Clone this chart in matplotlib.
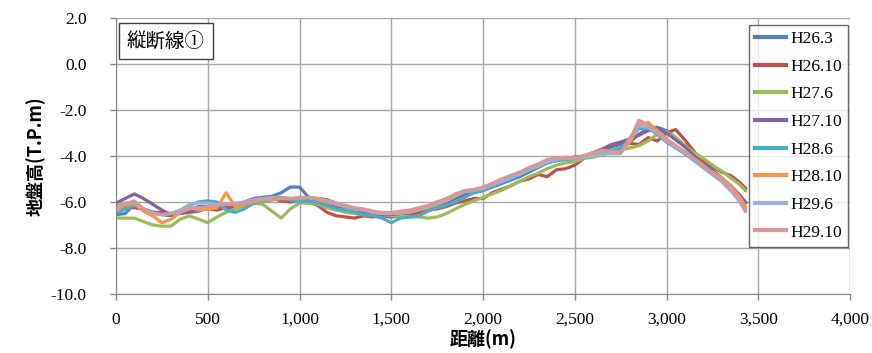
import matplotlib
matplotlib.use("Agg")
import matplotlib.pyplot as plt
from matplotlib.ticker import FuncFormatter, MultipleLocator

plt.rcParams['font.family'] = ['Liberation Serif', 'Noto Sans CJK JP', 'DejaVu Sans']
plt.rcParams['axes.unicode_minus'] = False
plt.rcParams['ytick.major.pad'] = 17
plt.rcParams['xtick.major.pad'] = 9
plt.rcParams['xtick.labelsize'] = 12.5
plt.rcParams['ytick.labelsize'] = 12.5

distance = [0, 50, 100, 150, 200, 250, 300, 350, 400, 450, 500, 550, 600, 650, 700, 750,
            800, 850, 900, 950, 1000, 1050, 1100, 1150, 1200, 1250, 1300, 1350, 1400, 1450,
            1500, 1550, 1600, 1650, 1700, 1750, 1800, 1850, 1900, 1950, 2000, 2050, 2100,
            2150, 2200, 2250, 2300, 2350, 2400, 2450, 2500, 2550, 2600, 2650, 2700, 2750,
            2800, 2850, 2900, 2950, 3000, 3050, 3100, 3150, 3200, 3250, 3300, 3350, 3400, 3430]

h26_3 = [-6.55, -6.5, -6.1, -6.3, -6.45, -6.55, -6.6, -6.45, -6.35, -6.2, -6.2, -6.1, -6.15, -6.1,
         -6.0, -5.85, -5.8, -5.75, -5.6, -5.35, -5.35, -5.8, -5.85, -5.9, -6.05, -6.2, -6.35, -6.45,
         -6.5, -6.6, -6.65, -6.6, -6.55, -6.45, -6.35, -6.2, -6.05, -5.85, -5.7, -5.6, -5.5, -5.35,
         -5.2, -5.05, -4.9, -4.7, -4.5, -4.3, -4.2, -4.15, -4.15, -4.05, -3.95, -3.8, -3.6, -3.5,
         -3.4, -3.05, -2.8, -2.75, -2.9, -3.2, -3.55, -3.9, -4.3, -4.6, -4.95, -5.3, -5.7, -6.0]

h26_10 = [-6.3, -6.2, -6.25, -6.3, -6.45, -6.45, -6.5, -6.4, -6.4, -6.35, -6.3, -6.35, -6.25, -6.25,
          -6.15, -6.05, -5.9, -5.85, -5.95, -6.0, -5.95, -6.0, -6.15, -6.45, -6.6, -6.65, -6.7, -6.6,
          -6.65, -6.6, -6.65, -6.55, -6.5, -6.45, -6.35, -6.3, -6.2, -6.05, -5.95, -5.85, -5.85, -5.6,
          -5.45, -5.3, -5.1, -5.0, -4.8, -4.9, -4.6, -4.55, -4.4, -4.1, -3.95, -3.7, -3.55, -3.4,
          -3.45, -3.5, -3.2, -3.35, -3.0, -2.85, -3.3, -3.8, -4.25, -4.45, -4.7, -4.85, -5.15, -5.4]

h27_6 = [-6.7, -6.7, -6.7, -6.85, -7.0, -7.05, -7.05, -6.75, -6.6, -6.75, -6.9, -6.65, -6.45, -6.3,
         -6.15, -6.05, -6.1, -6.4, -6.7, -6.3, -6.05, -6.05, -6.1, -6.25, -6.35, -6.45, -6.5, -6.55,
         -6.55, -6.55, -6.6, -6.6, -6.65, -6.65, -6.7, -6.65, -6.5, -6.3, -6.1, -5.95, -5.8, -5.65,
         -5.5, -5.3, -5.1, -4.9, -4.75, -4.55, -4.4, -4.3, -4.25, -4.1, -4.05, -3.95, -3.85, -3.75,
         -3.65, -3.55, -3.35, -3.05, -2.95, -3.2, -3.55, -3.85, -4.1, -4.4, -4.65, -4.95, -5.25, -5.5]

h27_10 = [-6.05, -5.85, -5.65, -5.85, -6.1, -6.35, -6.55, -6.5, -6.45, -6.4, -6.25, -6.25, -6.2, -6.1,
          -6.1, -6.0, -5.95, -5.9, -5.85, -5.85, -5.9, -5.95, -6.0, -6.1, -6.2, -6.35, -6.4, -6.45,
          -6.5, -6.55, -6.55, -6.5, -6.45, -6.3, -6.2, -6.0, -5.9, -5.75, -5.6, -5.55, -5.45, -5.3,
          -5.1, -4.95, -4.8, -4.6, -4.4, -4.2, -4.1, -4.1, -4.05, -4.0, -3.85, -3.7, -3.5, -3.4,
          -3.25, -3.1, -2.9, -2.8, -3.0, -3.3, -3.6, -4.0, -4.45, -4.7, -4.95, -5.3, -5.75, -6.05]

h28_6 = [-6.5, -6.3, -6.15, -6.3, -6.45, -6.55, -6.5, -6.4, -6.15, -6.0, -5.95, -6.0, -6.35, -6.45,
         -6.3, -6.05, -5.95, -5.9, -5.85, -5.9, -6.0, -5.95, -6.05, -6.15, -6.3, -6.35, -6.45, -6.55,
         -6.6, -6.7, -6.9, -6.7, -6.65, -6.6, -6.4, -6.25, -6.15, -6.0, -5.8, -5.6, -5.5, -5.35,
         -5.15, -5.0, -4.8, -4.6, -4.45, -4.3, -4.2, -4.15, -4.1, -4.05, -3.95, -3.85, -3.75, -3.65,
         -3.3, -2.8, -2.8, -3.05, -3.4, -3.65, -3.9, -4.2, -4.5, -4.8, -5.1, -5.5, -5.95, -6.3]

h28_10 = [-6.3, -6.15, -6.05, -6.4, -6.6, -6.9, -6.75, -6.45, -6.2, -6.35, -6.3, -6.25, -5.6, -6.2,
          -6.1, -6.0, -5.9, -5.9, -5.85, -5.85, -5.85, -5.8, -5.9, -6.0, -6.1, -6.2, -6.3, -6.35,
          -6.45, -6.5, -6.5, -6.5, -6.45, -6.35, -6.25, -6.1, -5.95, -5.75, -5.55, -5.5, -5.4, -5.2,
          -5.05, -4.9, -4.75, -4.55, -4.4, -4.2, -4.1, -4.1, -4.1, -4.0, -3.95, -3.85, -3.8, -3.85,
          -3.4, -2.65, -2.55, -2.9, -3.25, -3.55, -3.85, -4.15, -4.45, -4.7, -4.95, -5.3, -5.8, -6.2]

h29_6 = [-6.2, -6.05, -6.0, -6.3, -6.5, -6.55, -6.5, -6.35, -6.1, -6.05, -6.05, -6.1, -6.1, -6.05,
         -6.0, -5.9, -5.85, -5.8, -5.8, -5.85, -5.85, -5.8, -5.85, -5.95, -6.1, -6.2, -6.3, -6.35,
         -6.45, -6.5, -6.5, -6.45, -6.4, -6.3, -6.2, -6.05, -5.9, -5.7, -5.55, -5.5, -5.4, -5.25,
         -5.1, -4.95, -4.8, -4.6, -4.45, -4.25, -4.15, -4.1, -4.15, -4.05, -4.0, -3.9, -3.9, -3.9,
         -3.2, -2.7, -2.75, -3.0, -3.35, -3.6, -3.85, -4.15, -4.5, -4.8, -5.1, -5.5, -6.0, -6.4]

h29_10 = [-6.2, -6.1, -5.95, -6.3, -6.5, -6.55, -6.5, -6.45, -6.3, -6.25, -6.2, -6.15, -6.1, -6.1,
          -6.05, -5.95, -5.9, -5.85, -5.8, -5.85, -5.8, -5.8, -5.85, -5.95, -6.05, -6.15, -6.25, -6.3,
          -6.4, -6.45, -6.45, -6.4, -6.35, -6.25, -6.15, -6.0, -5.85, -5.65, -5.5, -5.45, -5.35, -5.2,
          -5.0, -4.85, -4.7, -4.5, -4.35, -4.15, -4.1, -4.05, -4.1, -4.0, -3.85, -3.75, -3.8, -3.85,
          -3.3, -2.45, -2.65, -2.95, -3.3, -3.55, -3.8, -4.1, -4.4, -4.75, -5.0, -5.4, -5.9, -6.4]

labels = ["H26.3", "H26.10", "H27.6", "H27.10", "H28.6", "H28.10", "H29.6", "H29.10"]
series = [h26_3, h26_10, h27_6, h27_10, h28_6, h28_10, h29_6, h29_10]
colors = ["#4F81BD", "#C0504D", "#9BBB59", "#8064A2", "#4BACC6", "#F79646", "#95B3D7", "#D99694"]

title_text = "縦断線①"
xlabel_text = "距離(m)"
ylabel_text = "地盤高(T.P.m)"

W, H = 872, 353
fig = plt.figure(figsize=(W / 100, H / 100), dpi=100)
ax = fig.add_axes([116 / W, 1 - 294 / H, (850 - 116) / W, (294 - 18) / H])

for vals, lab, col in zip(series, labels, colors):
    ax.plot(distance, vals, color=col, lw=2.3, label=lab, solid_joinstyle='round')

ax.set_xlim(0, 4000)
ax.set_ylim(-10, 2)
ax.xaxis.set_major_locator(MultipleLocator(500))
ax.yaxis.set_major_locator(MultipleLocator(2))
ax.xaxis.set_major_formatter(FuncFormatter(lambda v, p: f"{int(v):,}"))
ax.yaxis.set_major_formatter(FuncFormatter(lambda v, p: f"{v:.1f}"))
ax.grid(True, color="#A6A6A6", lw=1.0)
ax.set_axisbelow(True)
for s in ["top", "right"]:
    ax.spines[s].set_visible(False)
ax.spines["left"].set_color("#868686")
ax.spines["bottom"].set_color("#868686")
ax.tick_params(axis="both", colors="#868686", length=4, width=1, labelcolor="black")

cjk = ["Noto Sans CJK JP", "DejaVu Sans"]
ax.set_xlabel(xlabel_text, family=cjk, fontsize=13, fontweight="bold", labelpad=1)
ax.set_ylabel(ylabel_text, family=cjk, fontsize=13, fontweight="bold", labelpad=4)

ax.text(127 / W, 1 - 41 / H, title_text, transform=fig.transFigure, family=cjk, fontsize=14,
        va="center", ha="left",
        bbox=dict(boxstyle="square,pad=0.4", fc="white", ec="#404040", lw=1))

leg = ax.legend(loc="upper right", bbox_to_anchor=(848 / W, 1 - 25 / H),
                bbox_transform=fig.transFigure, frameon=True, fancybox=False,
                prop={"family": ["Liberation Serif"], "size": 12.5},
                handlelength=1.8, labelspacing=0.66, borderpad=0.35, handletextpad=0.25,
                borderaxespad=0)
leg.get_frame().set_edgecolor("#404040")
leg.get_frame().set_linewidth(1)
for l in leg.get_lines():
    l.set_linewidth(3)

fig.savefig("out.png", dpi=100)
